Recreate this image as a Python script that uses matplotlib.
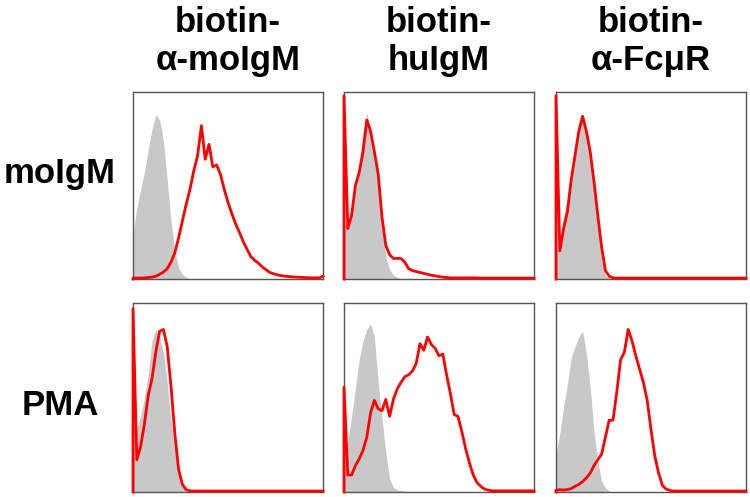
import numpy as np
import matplotlib
matplotlib.use("Agg")
import matplotlib.pyplot as plt

# shared fluorescence channel grid for every histogram
channels = np.arange(0, 1001, 20)

col_titles = [("biotin-", "α-moIgM"), ("biotin-", "huIgM"), ("biotin-", "α-FcμR")]
row_labels = ["moIgM", "PMA"]

# counts, in % of panel height (grey = control, red = stained)
moigm_a_moigm_ctrl = [24.5, 38, 48, 57, 69, 80, 88, 85, 74, 53, 31, 15, 6, 2.5, 1,
                      0, 0, 0, 0, 0, 0, 0, 0, 0, 0, 0, 0, 0, 0, 0, 0, 0, 0, 0, 0, 0,
                      0, 0, 0, 0, 0, 0, 0, 0, 0, 0, 0, 0, 0, 0, 0]
moigm_a_moigm_stain = [0.5, 0.5, 0.5, 0.6, 0.8, 1, 1.5, 2.5, 3.7, 5.5, 9, 14, 22, 31, 40,
                       48, 58, 66, 82, 64, 72, 60, 61, 56, 48, 41, 35, 29.5, 25, 20, 16,
                       12, 10, 8.5, 6.5, 5, 3.5, 2.8, 2.2, 1.8, 1.5, 1.3, 1.1, 1.0, 0.9,
                       0.8, 0.7, 0.6, 0.6, 0.6, 1.5]

moigm_huigm_ctrl = [29, 30, 38, 50, 63, 78, 89, 80, 68, 50, 30, 12, 5, 2, 1,
                    0, 0, 0, 0, 0, 0, 0, 0, 0, 0, 0, 0, 0, 0, 0, 0, 0, 0, 0, 0, 0,
                    0, 0, 0, 0, 0, 0, 0, 0, 0, 0, 0, 0, 0, 0, 0]
moigm_huigm_stain = [98, 27, 34, 50, 57, 68, 85, 79, 68, 56, 33, 18, 13, 11, 11, 11, 9,
                     5.5, 4.5, 4, 3.5, 3, 2.5, 2, 1.7, 1.3, 1, 0.8,
                     0.6, 0.6, 0.6, 0.6, 0.6, 0.6, 0.6, 0.6, 0.5, 0.5, 0.5, 0.5, 0.5,
                     0.5, 0.5, 0.5, 0.5, 0.5, 0.5, 0.5, 0.5, 0.5, 0.5]

moigm_fcmr_ctrl = [12, 22, 33, 43, 56, 66, 78, 88, 79, 66, 45, 28, 10, 2, 0.5,
                   0, 0, 0, 0, 0, 0, 0, 0, 0, 0, 0, 0, 0, 0, 0, 0, 0, 0, 0, 0, 0,
                   0, 0, 0, 0, 0, 0, 0, 0, 0, 0, 0, 0, 0, 0, 0]
moigm_fcmr_stain = [98, 15, 27, 36, 53, 66, 79, 87, 79, 68, 52, 34, 17, 4.5, 1.5, 0.6,
                    0.5, 0.5, 0.5, 0.5, 0.5, 0.5, 0.5, 0.5, 0.5, 0.5, 0.5, 0.5, 0.5,
                    0.5, 0.5, 0.5, 0.5, 0.5, 0.5, 0.5, 0.5, 0.5, 0.5, 0.5, 0.5, 0.5,
                    0.5, 0.5, 0.5, 0.5, 0.5, 0.5, 0.5, 0.5, 0.5]

pma_a_moigm_ctrl = [33, 34, 40, 50, 62, 80, 86, 82, 74, 58, 38, 24, 10, 3.5, 1,
                    0, 0, 0, 0, 0, 0, 0, 0, 0, 0, 0, 0, 0, 0, 0, 0, 0, 0, 0, 0, 0,
                    0, 0, 0, 0, 0, 0, 0, 0, 0, 0, 0, 0, 0, 0, 0]
pma_a_moigm_stain = [97, 17, 24, 36, 51, 60, 74, 85, 86, 77, 56, 31, 12, 4, 1.2, 0.6,
                     0.5, 0.5, 0.5, 0.5, 0.5, 0.5, 0.5, 0.5, 0.5, 0.5, 0.5, 0.5, 0.5,
                     0.5, 0.5, 0.5, 0.5, 0.5, 0.5, 0.5, 0.5, 0.5, 0.5, 0.5, 0.5, 0.5,
                     0.5, 0.5, 0.5, 0.5, 0.5, 0.5, 0.5, 0.5, 0.5]

pma_huigm_ctrl = [12, 27, 40, 55, 70, 80, 86, 89, 82, 58, 39, 21, 7, 2.5, 1.2, 0.8, 0.5,
                  0, 0, 0, 0, 0, 0, 0, 0, 0, 0, 0, 0, 0, 0, 0, 0, 0,
                  0, 0, 0, 0, 0, 0, 0, 0, 0, 0, 0, 0, 0, 0, 0, 0, 0]
pma_huigm_stain = [55.5, 9, 9, 14, 17.5, 22, 29, 42, 48.5, 44, 43, 49, 40, 49, 54.5,
                   58, 61, 62, 64, 68, 78.5, 75, 82, 78, 76, 72, 73, 62, 52, 41, 40,
                   32, 23, 15.5, 9, 5, 3, 1.5, 1,
                   0.6, 0.6, 0.6, 0.6, 0.6, 0.6, 0.6, 0.6, 0.6, 0.6, 0.6, 0.6]

pma_fcmr_ctrl = [20, 31, 45, 57, 71, 77, 82, 85, 73, 55.5, 32, 16, 6, 2, 0.5,
                 0, 0, 0, 0, 0, 0, 0, 0, 0, 0, 0, 0, 0, 0, 0, 0, 0, 0, 0, 0, 0,
                 0, 0, 0, 0, 0, 0, 0, 0, 0, 0, 0, 0, 0, 0, 0]
pma_fcmr_stain = [1, 1.2, 1, 1.3, 1.8, 3, 4, 5.5, 7.5, 10, 14, 17, 20, 29, 38, 38, 53,
                  70, 74, 86, 80, 72, 65, 58, 48.5, 33, 19, 10, 3.5, 1.5, 0.8,
                  0.5, 0.5, 0.5, 0.5, 0.5, 0.5, 0.5, 0.5, 0.5, 0.5,
                  0.5, 0.5, 0.5, 0.5, 0.5, 0.5, 0.5, 0.5, 0.5, 0.5]

panels = [
    [(moigm_a_moigm_ctrl, moigm_a_moigm_stain),
     (moigm_huigm_ctrl, moigm_huigm_stain),
     (moigm_fcmr_ctrl, moigm_fcmr_stain)],
    [(pma_a_moigm_ctrl, pma_a_moigm_stain),
     (pma_huigm_ctrl, pma_huigm_stain),
     (pma_fcmr_ctrl, pma_fcmr_stain)],
]

# layout in pixels of the 750x497 canvas
W, H = 750, 497
col_left = [133, 344, 556]
panel_w = 190
row_top = [92, 303]
panel_h = [187, 189]

FONT = "Liberation Sans"
GREY = "#c8c8c8"
SPINE = "#555555"

fig = plt.figure(figsize=(W / 100, H / 100), dpi=100)

for r in range(2):
    for c in range(3):
        left, top, h = col_left[c], row_top[r], panel_h[r]
        ax = fig.add_axes([left / W, 1 - (top + h) / H, panel_w / W, h / H])
        ctrl, stain = panels[r][c]
        assert len(ctrl) == len(channels) and len(stain) == len(channels)
        ax.fill_between(channels, ctrl, 0, color=GREY, lw=0, zorder=1)
        # close the stained trace down to the baseline at the first channel
        xs = np.concatenate([[channels[0]], channels])
        ys = np.concatenate([[0], stain])
        ax.plot(xs, ys, color="red", lw=2.0, zorder=3, clip_on=False,
                solid_joinstyle="round")
        ax.set_xlim(channels[0], channels[-1])
        ax.set_ylim(0, 100)
        ax.set_xticks([])
        ax.set_yticks([])
        for s in ax.spines.values():
            s.set_color(SPINE)
            s.set_linewidth(1.0)

# column titles, two lines each
for c, (l1, l2) in enumerate(col_titles):
    xc = (col_left[c] + panel_w / 2) / W
    fig.text(xc, 1 - 32 / H, l1, ha="center", va="baseline", fontsize=25,
             fontweight="bold", family=FONT)
    fig.text(xc, 1 - 70 / H, l2, ha="center", va="baseline", fontsize=25,
             fontweight="bold", family=FONT)

# row labels
for label, base in zip(row_labels, [183, 415]):
    fig.text(60 / W, 1 - base / H, label, ha="center", va="baseline", fontsize=25,
             fontweight="bold", family=FONT)

fig.savefig("out.png", dpi=100)
